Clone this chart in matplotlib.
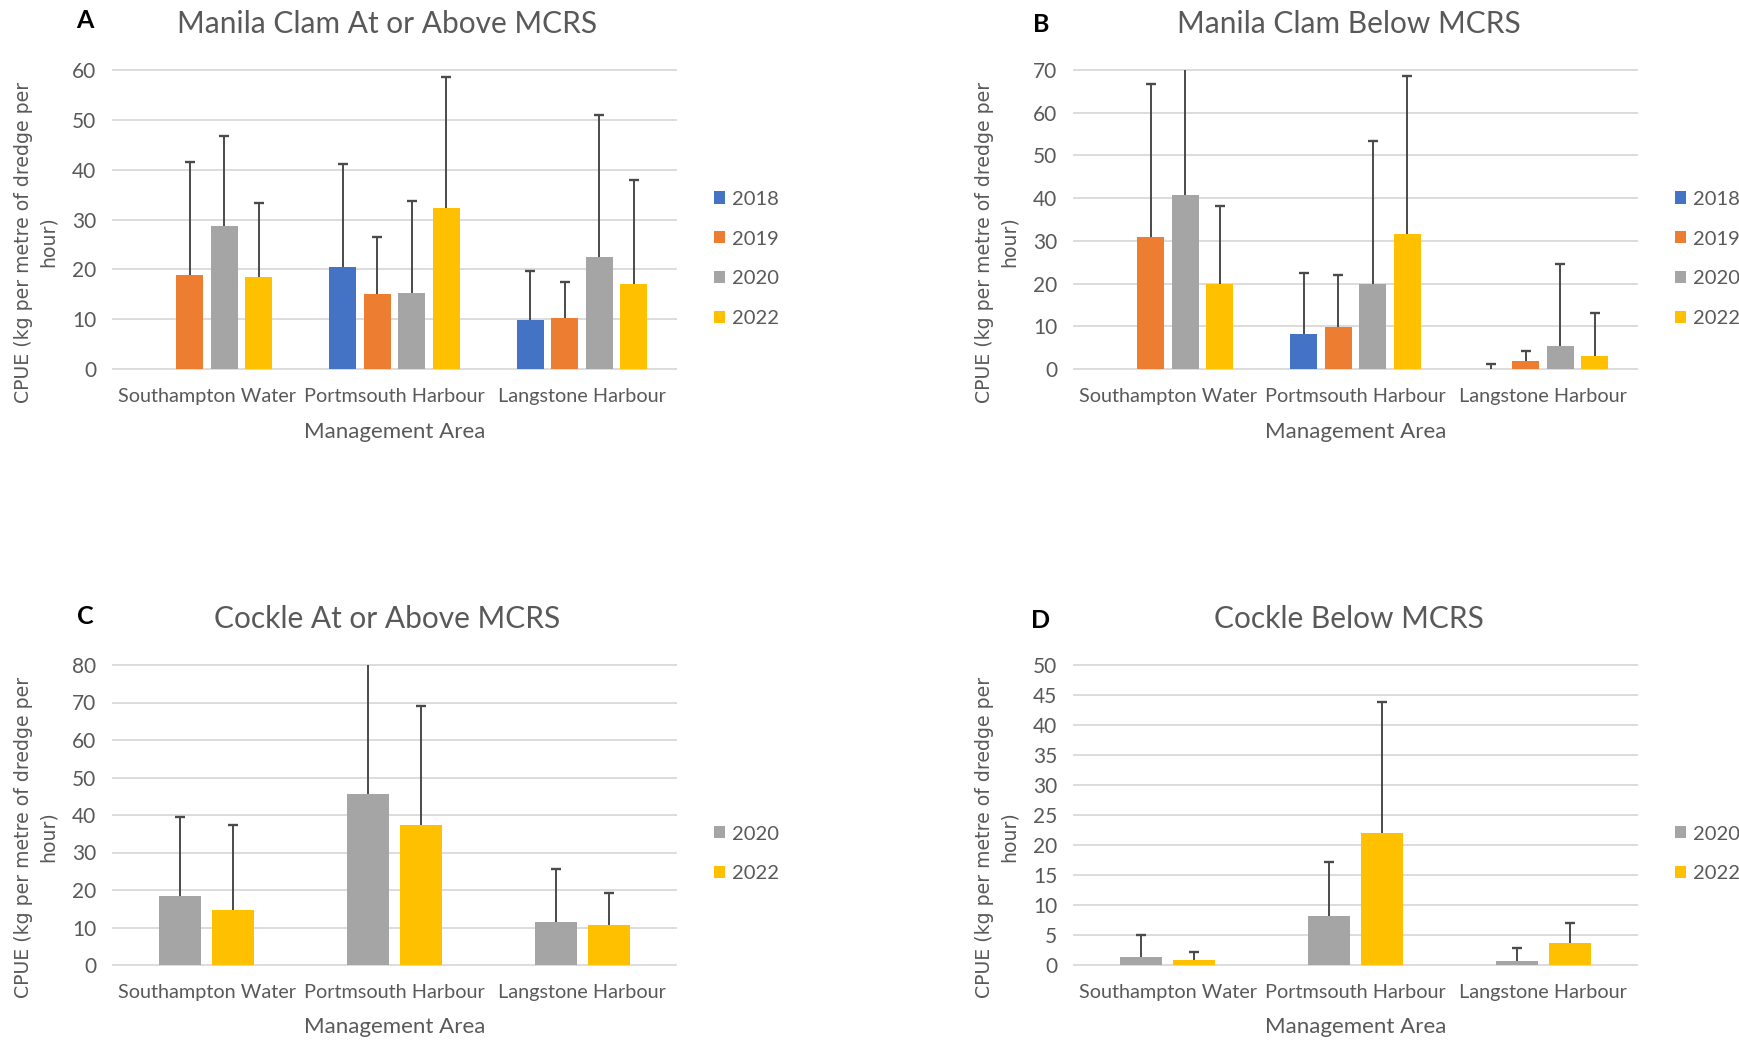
import matplotlib
matplotlib.use("Agg")
import matplotlib.pyplot as plt
import numpy as np

W, H = 1739, 1040

areas = ["Southampton Water", "Portmsouth Harbour", "Langstone Harbour"]
years4 = ["2018", "2019", "2020", "2022"]
years2 = ["2020", "2022"]
colors = {"2018": "#4472C4", "2019": "#ED7D31", "2020": "#A5A5A5", "2022": "#FFC000"}

# Panel A: Manila clam at or above MCRS (mean, upper error limit)
a_mean = {"2018": [np.nan, 20.5, 9.8], "2019": [18.8, 15.1, 10.2],
          "2020": [28.6, 15.3, 22.4], "2022": [18.5, 32.3, 17.1]}
a_top = {"2018": [np.nan, 41.1, 19.7], "2019": [41.5, 26.4, 17.4],
         "2020": [46.8, 33.7, 51.0], "2022": [33.3, 58.6, 37.9]}
# Panel B: Manila clam below MCRS
b_mean = {"2018": [np.nan, 8.3, 0.1], "2019": [31.0, 9.8, 1.8],
          "2020": [40.7, 19.8, 5.5], "2022": [20.0, 31.5, 3.0]}
b_top = {"2018": [np.nan, 22.5, 1.1], "2019": [66.7, 21.9, 4.2],
         "2020": [75.0, 53.3, 24.6], "2022": [38.1, 68.6, 13.0]}
# Panel C: Cockle at or above MCRS
c_mean = {"2020": [18.3, 45.7, 11.5], "2022": [14.7, 37.3, 10.6]}
c_top = {"2020": [39.5, 85.0, 25.7], "2022": [37.4, 69.0, 19.2]}
# Panel D: Cockle below MCRS
d_mean = {"2020": [1.4, 8.2, 0.7], "2022": [0.9, 22.0, 3.6]}
d_top = {"2020": [5.0, 17.2, 2.8], "2022": [2.1, 43.9, 7.0]}

panels = [
    dict(letter="A", title="Manila Clam At or Above MCRS", mean=a_mean, top=a_top,
         years=years4, ymax=60, step=10, col=0, row=0),
    dict(letter="B", title="Manila Clam Below MCRS", mean=b_mean, top=b_top,
         years=years4, ymax=70, step=10, col=1, row=0),
    dict(letter="C", title="Cockle At or Above MCRS", mean=c_mean, top=c_top,
         years=years2, ymax=80, step=10, col=0, row=1),
    dict(letter="D", title="Cockle Below MCRS", mean=d_mean, top=d_top,
         years=years2, ymax=50, step=5, col=1, row=1),
]

TXT = "#595959"
GRID = "#D9D9D9"
FONT = "Lato"

fig = plt.figure(figsize=(W / 100, H / 100), dpi=100)

def fx(px):
    return px / W

def fy(py):
    return 1 - py / H

for p in panels:
    dx = 961 * p["col"]
    if p["row"] == 0:
        top_px, bot_px, dy = 70, 369, 0
    else:
        top_px, bot_px, dy = 665, 965, 595
    left_px, right_px = 113 + dx, 676 + dx
    ax = fig.add_axes([fx(left_px), fy(bot_px), fx(right_px - left_px),
                       (bot_px - top_px) / H])
    years = p["years"]
    n = len(years)
    if n == 4:
        pitch, width = 0.184, 0.144
    else:
        pitch, width = 0.282, 0.224
    x = np.arange(len(areas))
    handles = []
    for i, y in enumerate(years):
        off = (i - (n - 1) / 2) * pitch
        mean = np.array(p["mean"][y], dtype=float)
        top = np.array(p["top"][y], dtype=float)
        h = ax.bar(x + off, np.nan_to_num(mean), width, color=colors[y], zorder=2,
                   label=y)
        handles.append(h)
        err = top - mean
        valid = ~np.isnan(mean)
        eb = ax.errorbar((x + off)[valid], mean[valid],
                         yerr=[np.zeros(valid.sum()), err[valid]],
                         fmt="none", ecolor="#4a4a4a", elinewidth=1.4, capsize=3.6,
                         capthick=1.7, zorder=3)
        caplines = eb[1]
        if len(caplines) == 2:
            caplines[0].set_visible(False)
    ax.set_xlim(-0.5, 2.5)
    ax.set_ylim(0, p["ymax"])
    ax.set_yticks(np.arange(0, p["ymax"] + 0.1, p["step"]))
    ax.set_xticks(x)
    ax.set_xticklabels(areas)
    for s in ax.spines.values():
        s.set_visible(False)
    ax.yaxis.grid(True, color=GRID, linewidth=1.3, zorder=0)
    ax.set_axisbelow(True)
    ax.tick_params(axis="both", length=0, labelcolor=TXT)
    ax.tick_params(axis="x", pad=14, labelsize=14.3)
    ax.tick_params(axis="y", pad=12, labelsize=15)
    for lab in ax.get_xticklabels() + ax.get_yticklabels():
        lab.set_fontfamily(FONT)
    for gl in ax.yaxis.get_gridlines():
        gl.set_clip_on(False)

    cx = (left_px + right_px) / 2
    # title
    fig.text(fx(cx - 7), fy(24 + dy), p["title"], ha="center", va="center",
             fontsize=21.5, color=TXT, family=FONT)
    # panel letter
    fig.text(fx(85 + 956 * p["col"]), fy(21 + dy + (4 if p["col"] == 1 else 0)),
             p["letter"], ha="center", va="center", fontsize=18,
             fontweight="bold", color="black", family=FONT)
    # x label
    fig.text(fx(cx), fy(432 + dy), "Management Area", ha="center", va="center",
             fontsize=16, color=TXT, family=FONT)
    # y label
    fig.text(fx(36 + dx), fy(242 + dy), "CPUE (kg per metre of dredge per\nhour)",
             rotation=90, ha="center", va="center", multialignment="center",
             fontsize=13.6, color=TXT, family="DejaVu Sans", linespacing=1.4)
    # legend
    leg_center = 259 if n == 4 else 854
    fig.legend(handles=handles, labels=years, loc="center left",
               bbox_to_anchor=(fx(714 + dx), fy(leg_center + dy if n == 4 else leg_center)),
               frameon=False, borderpad=0, borderaxespad=0, handlelength=0.55,
               handleheight=0.55, handletextpad=0.35, labelspacing=1.14,
               prop=dict(family=FONT, size=14.5), labelcolor=TXT)

fig.savefig("out.png", dpi=100)
